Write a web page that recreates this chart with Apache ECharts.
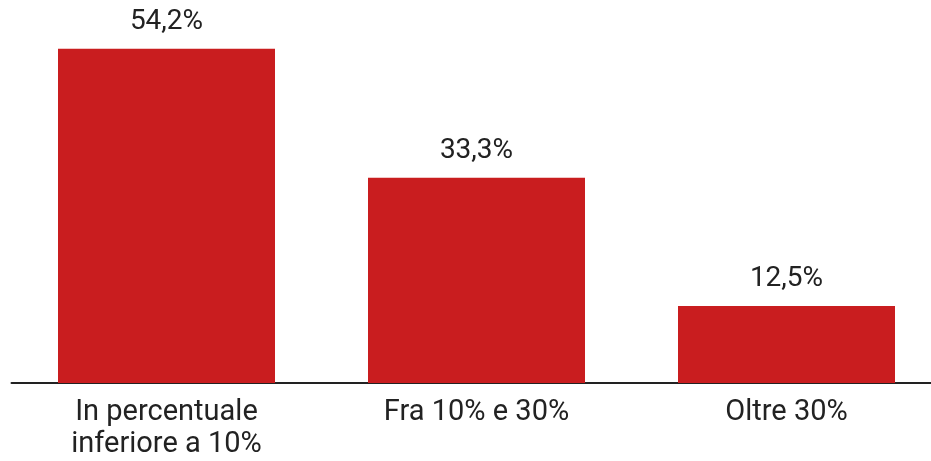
<!DOCTYPE html>
<html>
<head>
<meta charset="utf-8">
<script src="https://cdn.jsdelivr.net/npm/echarts@6/dist/echarts.min.js"></script>
<style>
  html, body { margin: 0; padding: 0; background: #fff; }
  #chart { width: 931px; height: 461px; }
</style>
</head>
<body>
<div id="chart"></div>
<script>
// Categories and shares (percent)
const categories = ['In percentuale\ninferiore a 10%', 'Fra 10% e 30%', 'Oltre 30%'];
const shares = [54.2, 33.3, 12.5];

const fmt = v => v.toFixed(1).replace('.', ',') + '%';

const chart = echarts.init(document.getElementById('chart'), null, { renderer: 'canvas' });
chart.setOption({
  animation: false,
  backgroundColor: '#ffffff',
  textStyle: { fontFamily: 'Roboto' },
  grid: {
    left: 11.5, width: 930, top: 13, bottom: 78,
    containLabel: false,
    outerBoundsMode: 'none'
  },
  xAxis: {
    type: 'category',
    data: categories,
    axisLine: { show: true, lineStyle: { color: '#222', width: 2 } },
    axisTick: { show: false },
    axisLabel: {
      color: '#222',
      fontSize: 29,
      lineHeight: 32,
      margin: 14,
      fontFamily: 'Roboto',
      interval: 0
    }
  },
  yAxis: {
    type: 'value',
    min: 0,
    max: 60,
    show: false,
    splitLine: { show: false }
  },
  series: [{
    type: 'bar',
    data: shares,
    barCategoryGap: '30%',
    itemStyle: { color: '#c91d1f' },
    label: {
      show: true,
      position: 'top',
      distance: 13,
      color: '#222',
      fontSize: 28,
      fontFamily: 'Roboto',
      formatter: p => fmt(p.value)
    }
  }]
});
</script>
</body>
</html>
